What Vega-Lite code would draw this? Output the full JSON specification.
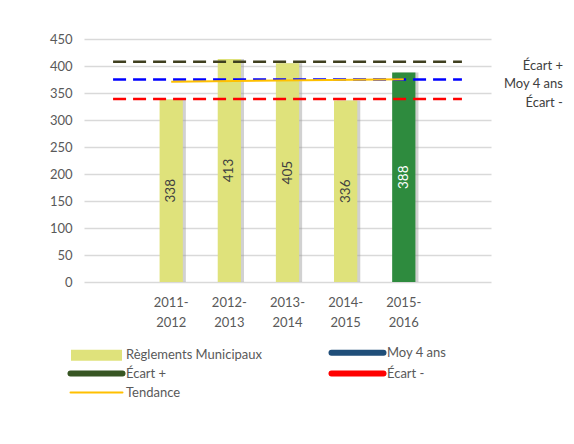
{
  "$schema": "https://vega.github.io/schema/vega-lite/v6.json",
  "width": 407,
  "height": 243,
  "autosize": {"type": "none"},
  "padding": {"left": 84, "top": 39, "right": 83, "bottom": 162},
  "background": "white",
  "config": {
    "font": "Lato",
    "view": {"stroke": null},
    "axis": {"labelFont": "Lato", "labelColor": "#595959", "labelFontSize": 13},
    "legend": {"labelFont": "Lato"}
  },
  "datasets": {
    "bars": [
      {"annee": "2011-2012", "s": "Règlements Municipaux", "v": 338},
      {"annee": "2012-2013", "s": "Règlements Municipaux", "v": 413},
      {"annee": "2013-2014", "s": "Règlements Municipaux", "v": 405},
      {"annee": "2014-2015", "s": "Règlements Municipaux", "v": 336},
      {"annee": "2015-2016", "s": "Règlements Municipaux", "v": 388}
    ],
    "lines": [
      {"s": "Écart +", "annee": "debut", "v": 408},
      {"s": "Écart +", "annee": "fin", "v": 408},
      {"s": "Moy 4 ans", "annee": "debut", "v": 375},
      {"s": "Moy 4 ans", "annee": "fin", "v": 375},
      {"s": "Écart -", "annee": "debut", "v": 339},
      {"s": "Écart -", "annee": "fin", "v": 339},
      {"s": "Tendance", "annee": "2011-2012", "v": 371},
      {"s": "Tendance", "annee": "2015-2016", "v": 375.5}
    ]
  },
  "resolve": {"scale": {"y": "independent"}},
  "layer": [
    {
      "data": {"name": "bars"},
      "mark": {"type": "bar", "color": "#9a9a9a", "opacity": 0.45},
      "encoding": {
        "x": {
          "field": "annee", "type": "nominal",
          "scale": {"domain": ["debut", "2011-2012", "2012-2013", "2013-2014", "2014-2015", "2015-2016", "fin"], "paddingInner": 0.6, "paddingOuter": 0.3},
          "axis": {
            "title": null, "domain": false, "ticks": false, "labelAngle": 0, "labelPadding": 14,
            "labelLineHeight": 20, "labelBaseline": "top",
            "labelExpr": "datum.value === 'debut' || datum.value === 'fin' ? '' : [slice(datum.value, 0, 5), slice(datum.value, 5)]"
          }
        },
        "xOffset": {"value": 3},
        "y": {
          "field": "v", "type": "quantitative",
          "scale": {"domain": [0, 450], "nice": false},
          "axis": {"title": null, "domain": false, "ticks": false, "labelPadding": 12, "values": [0, 50, 100, 150, 200, 250, 300, 350, 400, 450], "gridColor": "#d9d9d9", "gridWidth": 1.5}
        }
      }
    },
    {
      "data": {"name": "bars"},
      "mark": {"type": "bar"},
      "encoding": {
        "x": {"field": "annee", "type": "nominal", "scale": {"domain": ["debut", "2011-2012", "2012-2013", "2013-2014", "2014-2015", "2015-2016", "fin"], "paddingInner": 0.6, "paddingOuter": 0.3}},
        "y": {"field": "v", "type": "quantitative", "scale": {"domain": [0, 450], "nice": false}, "axis": null},
        "color": {
          "condition": {"test": "datum.annee === '2015-2016'", "value": "#2e8b3e"},
          "field": "s", "type": "nominal",
          "scale": {
            "domain": ["Règlements Municipaux", "Écart +", "Tendance", "Moy 4 ans", "Écart -"],
            "range": ["#dfe27b", "#375623", "#ffc000", "#1f4e79", "#ff0000"]
          },
          "legend": {
            "orient": "none", "legendX": 6, "legendY": 307, "columns": 2, "columnPadding": 57, "rowPadding": -4,
            "symbolSize": 100, "labelOffset": 23, "labelFontSize": 13, "labelColor": "#595959", "title": null, "labelLimit": 0,
            "encode": {
              "symbols": {
                "update": {
                  "shape": {"signal": "datum.value === 'Règlements Municipaux' ? 'M-5.1,-1.1H5.1V1.1H-5.1Z' : 'M-5.2,0H5.2'"},
                  "fill": {"signal": "datum.value === 'Règlements Municipaux' ? '#dfe27b' : 'transparent'"},
                  "strokeWidth": {"signal": "datum.value === 'Règlements Municipaux' ? 0 : datum.value === 'Tendance' ? 2 : 6"},
                  "strokeCap": {"value": "round"},
                  "opacity": {"value": 1}
                }
              }
            }
          }
        }
      }
    },
    {
      "data": {"name": "lines"},
      "transform": [{"filter": "datum.s !== 'Tendance'"}],
      "mark": {"type": "line", "strokeDash": [13, 7], "strokeWidth": 2.5},
      "encoding": {
        "x": {"field": "annee", "type": "nominal", "scale": {"domain": ["debut", "2011-2012", "2012-2013", "2013-2014", "2014-2015", "2015-2016", "fin"], "paddingInner": 0.6, "paddingOuter": 0.3}},
        "y": {"field": "v", "type": "quantitative", "scale": {"domain": [0, 450], "nice": false}, "axis": null},
        "color": {
          "condition": [
            {"test": "datum.s === 'Moy 4 ans'", "value": "#0000ff"},
            {"test": "datum.s === 'Écart +'", "value": "#3f3f1f"}
          ],
          "field": "s", "type": "nominal"
        }
      }
    },
    {
      "data": {"name": "lines"},
      "transform": [{"filter": "datum.s === 'Tendance'"}],
      "mark": {"type": "line", "strokeWidth": 2},
      "encoding": {
        "x": {"field": "annee", "type": "nominal", "scale": {"domain": ["debut", "2011-2012", "2012-2013", "2013-2014", "2014-2015", "2015-2016", "fin"], "paddingInner": 0.6, "paddingOuter": 0.3}},
        "y": {"field": "v", "type": "quantitative", "scale": {"domain": [0, 450], "nice": false}, "axis": null},
        "color": {"field": "s", "type": "nominal"}
      }
    },
    {
      "data": {"name": "lines"},
      "transform": [{"filter": "datum.annee === 'fin'"}],
      "mark": {"type": "text", "align": "right", "baseline": "middle", "dx": 101, "dy": 4, "fontSize": 13, "color": "#404040"},
      "encoding": {
        "x": {"field": "annee", "type": "nominal", "scale": {"domain": ["debut", "2011-2012", "2012-2013", "2013-2014", "2014-2015", "2015-2016", "fin"], "paddingInner": 0.6, "paddingOuter": 0.3}},
        "y": {"field": "v", "type": "quantitative", "scale": {"domain": [0, 450], "nice": false}, "axis": null},
        "text": {"field": "s"}
      }
    },
    {
      "data": {"name": "bars"},
      "mark": {"type": "text", "angle": 270, "align": "center", "baseline": "middle", "fontSize": 13.5},
      "encoding": {
        "x": {"field": "annee", "type": "nominal", "scale": {"domain": ["debut", "2011-2012", "2012-2013", "2013-2014", "2014-2015", "2015-2016", "fin"], "paddingInner": 0.6, "paddingOuter": 0.3}},
        "y": {"field": "v", "type": "quantitative", "scale": {"domain": [0, 900], "nice": false}, "axis": null},
        "text": {"field": "v"},
        "color": {"condition": {"test": "datum.annee === '2015-2016'", "value": "#ffffff"}, "value": "#404040"}
      }
    }
  ]
}
